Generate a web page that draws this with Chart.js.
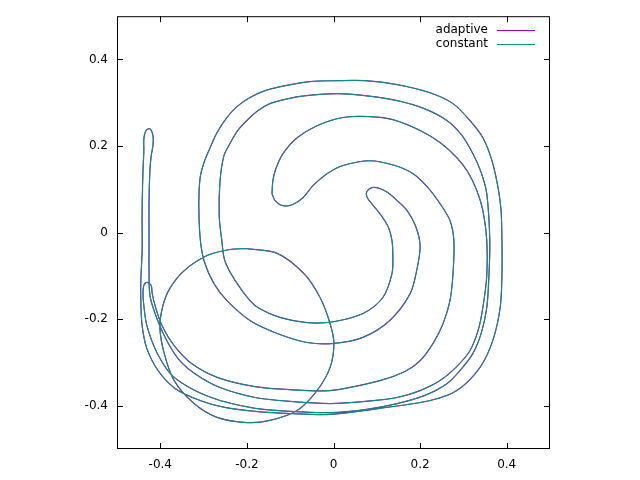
<!DOCTYPE html>
<html>
<head>
<meta charset="utf-8">
<script src="https://cdn.jsdelivr.net/npm/chart.js@4"></script>
<style>
  html, body { margin: 0; padding: 0; background: #fff; }
  #plot { display: block; }
</style>
</head>
<body>
<canvas id="plot" width="640" height="480"></canvas>
<script>
// axis ticks
const xTickValues = [-0.4, -0.2, 0, 0.2, 0.4];
const xTickLabels = ['-0.4', '-0.2', '0', '0.2', '0.4'];
const yTickValues = [-0.4, -0.2, 0, 0.2, 0.4];
const yTickLabels = ['-0.4', '-0.2', '0', '0.2', '0.4'];

const seriesNames = ['adaptive', 'constant'];
const seriesColors = ['#9400d3', '#009e73'];

// filament, read off the picture strand by strand ([x, y])
// hook -> upper arc -> down the tail
const strandC = [
    [-0.142, 0.090], [-0.140, 0.120], [-0.133, 0.148], [-0.117, 0.182], [-0.084, 0.219],
    [-0.038, 0.247], [0.022, 0.266], [0.084, 0.268], [0.137, 0.261], [0.200, 0.236],
    [0.246, 0.208], [0.285, 0.173], [0.311, 0.139], [0.331, 0.097], [0.345, 0.051],
    [0.354, -0.018], [0.354, -0.099], [0.345, -0.173], [0.334, -0.226], [0.315, -0.273],
    [0.285, -0.309], [0.246, -0.342], [0.200, -0.365], [0.147, -0.381], [0.073, -0.390],
    [-0.008, -0.395], [-0.100, -0.390], [-0.181, -0.381], [-0.262, -0.358], [-0.320, -0.326],
    [-0.359, -0.291], [-0.389, -0.242], [-0.412, -0.187], [-0.424, -0.145], [-0.426, -0.088],
    [-0.426, -0.018], [-0.426, 0.074], [-0.424, 0.143], [-0.421, 0.178]
];
const tailTop = [
    [-0.417, 0.201], [-0.417, 0.224], [-0.424, 0.240], [-0.433, 0.236], [-0.438, 0.217],
    [-0.438, 0.189]
];
// tail -> outer ring -> inner hook, up to the tip
const strandA = [
    [-0.440, 0.143], [-0.442, 0.051], [-0.442, -0.042], [-0.445, -0.111], [-0.445, -0.157],
    [-0.442, -0.215], [-0.431, -0.268], [-0.405, -0.319], [-0.366, -0.360], [-0.308, -0.388],
    [-0.251, -0.404], [-0.181, -0.413], [-0.100, -0.418], [-0.008, -0.420], [0.107, -0.406],
    [0.223, -0.388], [0.285, -0.365], [0.338, -0.312], [0.368, -0.249], [0.385, -0.173],
    [0.389, -0.099], [0.389, -0.018], [0.387, 0.051], [0.380, 0.104], [0.366, 0.166],
    [0.345, 0.219], [0.315, 0.259], [0.276, 0.298], [0.223, 0.323], [0.147, 0.342],
    [0.073, 0.351], [0.008, 0.351], [-0.054, 0.349], [-0.114, 0.339], [-0.158, 0.328],
    [-0.193, 0.312], [-0.223, 0.291], [-0.246, 0.266], [-0.269, 0.231], [-0.285, 0.196],
    [-0.299, 0.162], [-0.308, 0.127], [-0.311, 0.067], [-0.308, -0.012], [-0.299, -0.065],
    [-0.276, -0.118], [-0.246, -0.157], [-0.193, -0.203], [-0.130, -0.233], [-0.061, -0.254],
    [0.001, -0.256], [0.068, -0.242], [0.130, -0.203], [0.177, -0.141], [0.193, -0.083],
    [0.200, -0.030], [0.190, 0.014], [0.170, 0.051], [0.147, 0.074], [0.126, 0.092],
    [0.107, 0.102], [0.089, 0.104], [0.077, 0.095]
];
// tip -> second ring -> back to the tail
const strandB = [
    [0.077, 0.083], [0.084, 0.072], [0.107, 0.044], [0.126, 0.014], [0.135, -0.018],
    [0.137, -0.053], [0.135, -0.095], [0.114, -0.150], [0.068, -0.187], [-0.001, -0.206],
    [-0.061, -0.208], [-0.124, -0.196], [-0.170, -0.176], [-0.193, -0.157], [-0.227, -0.111],
    [-0.251, -0.065], [-0.258, -0.018], [-0.264, 0.039], [-0.262, 0.120], [-0.253, 0.178],
    [-0.239, 0.206], [-0.221, 0.236], [-0.200, 0.259], [-0.174, 0.282], [-0.147, 0.298],
    [-0.107, 0.309], [-0.068, 0.316], [0.008, 0.321], [0.077, 0.316], [0.147, 0.305],
    [0.211, 0.286], [0.262, 0.259], [0.297, 0.224], [0.322, 0.182], [0.341, 0.139],
    [0.354, 0.090], [0.361, -0.018], [0.359, -0.099], [0.354, -0.173], [0.341, -0.233],
    [0.322, -0.279], [0.292, -0.319], [0.262, -0.349], [0.211, -0.376], [0.147, -0.395],
    [0.073, -0.409], [-0.008, -0.416], [-0.100, -0.413], [-0.181, -0.406], [-0.262, -0.388],
    [-0.320, -0.365], [-0.373, -0.330], [-0.408, -0.277], [-0.431, -0.215], [-0.438, -0.169]
];
const tailCurl = [
    [-0.440, -0.139], [-0.438, -0.122], [-0.431, -0.115], [-0.421, -0.122], [-0.419, -0.139]
];
// tail -> inner ring -> hook
const strandD = [
    [-0.412, -0.169], [-0.396, -0.215], [-0.368, -0.261], [-0.327, -0.303], [-0.267, -0.335],
    [-0.181, -0.356], [-0.100, -0.363], [-0.008, -0.365], [0.107, -0.342], [0.165, -0.321],
    [0.200, -0.296], [0.230, -0.256], [0.253, -0.210], [0.269, -0.157], [0.276, -0.095],
    [0.278, -0.018], [0.269, 0.028], [0.246, 0.067], [0.218, 0.104], [0.184, 0.136],
    [0.142, 0.155], [0.084, 0.166], [0.022, 0.155], [-0.015, 0.136], [-0.047, 0.109],
    [-0.070, 0.081], [-0.094, 0.065], [-0.117, 0.062], [-0.135, 0.074], [-0.142, 0.090]
];
// the round loop in the lower left
const circleLoop = [
    [-0.200, -0.037], [-0.130, -0.048], [-0.068, -0.095], [-0.031, -0.150], [-0.008, -0.210],
    [0.001, -0.256], [-0.008, -0.312], [-0.038, -0.365], [-0.084, -0.411], [-0.147, -0.434],
    [-0.200, -0.439], [-0.269, -0.427], [-0.322, -0.395], [-0.368, -0.342], [-0.391, -0.279],
    [-0.401, -0.219], [-0.394, -0.169], [-0.378, -0.129], [-0.345, -0.088], [-0.292, -0.053],
    [-0.239, -0.039], [-0.200, -0.037]
];

const toPoints = (pairs) => pairs.map(p => ({ x: p[0], y: p[1] }));

const buildPath = () => [
    ...toPoints(strandC), ...toPoints(tailTop), ...toPoints(strandA),
    ...toPoints(strandB), ...toPoints(tailCurl), ...toPoints(strandD),
    { x: null, y: null },
    ...toPoints(circleLoop)
];

// gnuplot-ish frame, inward ticks on all four sides, and key at top right
const framePlugin = {
    id: 'frame',
    afterDraw(chart) {
        const { ctx, chartArea: a, scales } = chart;
        ctx.save();
        ctx.strokeStyle = '#000';
        ctx.lineWidth = 1;
        ctx.strokeRect(a.left + 0.5, a.top + 0.5, a.right - a.left - 1, a.bottom - a.top - 1);

        const len = 6;
        ctx.beginPath();
        xTickValues.forEach(v => {
            const px = Math.round(scales.x.getPixelForValue(v)) + 0.5;
            ctx.moveTo(px, a.bottom);
            ctx.lineTo(px, a.bottom - len);
            ctx.moveTo(px, a.top);
            ctx.lineTo(px, a.top + len);
        });
        yTickValues.forEach(v => {
            const py = Math.round(scales.y.getPixelForValue(v)) + 0.5;
            ctx.moveTo(a.left, py);
            ctx.lineTo(a.left + len, py);
            ctx.moveTo(a.right, py);
            ctx.lineTo(a.right - len, py);
        });
        ctx.stroke();

        ctx.font = '12px "DejaVu Sans"';
        ctx.textAlign = 'right';
        ctx.textBaseline = 'middle';
        chart.data.datasets.forEach((ds, i) => {
            const y = 30 + i * 14;
            ctx.fillStyle = '#000';
            ctx.fillText(ds.label, 488, y);
            ctx.strokeStyle = ds.borderColor;
            ctx.lineWidth = 1;
            ctx.beginPath();
            ctx.moveTo(497, y + 0.5);
            ctx.lineTo(535, y + 0.5);
            ctx.stroke();
        });
        ctx.restore();
    }
};

const axisTicks = (values, labels) => ({
    afterBuildTicks: (scale) => { scale.ticks = values.map(v => ({ value: v })); },
    ticks: {
        callback: (value, index) => labels[index],
        color: '#000',
        padding: 9,
        autoSkip: false,
        maxRotation: 0
    }
});

Chart.defaults.font.family = '"DejaVu Sans"';
Chart.defaults.font.size = 12;

new Chart(document.getElementById('plot'), {
    type: 'scatter',
    data: {
        datasets: seriesNames.map((name, i) => ({
            label: name,
            data: buildPath(),
            showLine: true,
            spanGaps: false,
            borderColor: seriesColors[i],
            borderWidth: i === 0 ? 1.2 : 1,
            // teal drawn over the purple, like the second gnuplot curve
            order: i === 0 ? 1 : 0,
            tension: 0.3,
            pointRadius: 0,
            pointHoverRadius: 0,
            fill: false
        }))
    },
    options: {
        responsive: false,
        animation: false,
        devicePixelRatio: 1,
        layout: { padding: { left: 0, top: 15, right: 90, bottom: 0 } },
        plugins: {
            legend: { display: false },
            tooltip: { enabled: false }
        },
        scales: {
            x: {
                type: 'linear',
                min: -0.5,
                max: 0.5,
                grid: { display: false, drawTicks: false },
                border: { display: false },
                afterFit: (scale) => { scale.height = 31; },
                ...axisTicks(xTickValues, xTickLabels)
            },
            y: {
                type: 'linear',
                min: -0.5,
                max: 0.5,
                grid: { display: false, drawTicks: false },
                border: { display: false },
                afterFit: (scale) => { scale.width = 117; },
                ...axisTicks(yTickValues, yTickLabels)
            }
        }
    },
    plugins: [framePlugin]
});
</script>
</body>
</html>
